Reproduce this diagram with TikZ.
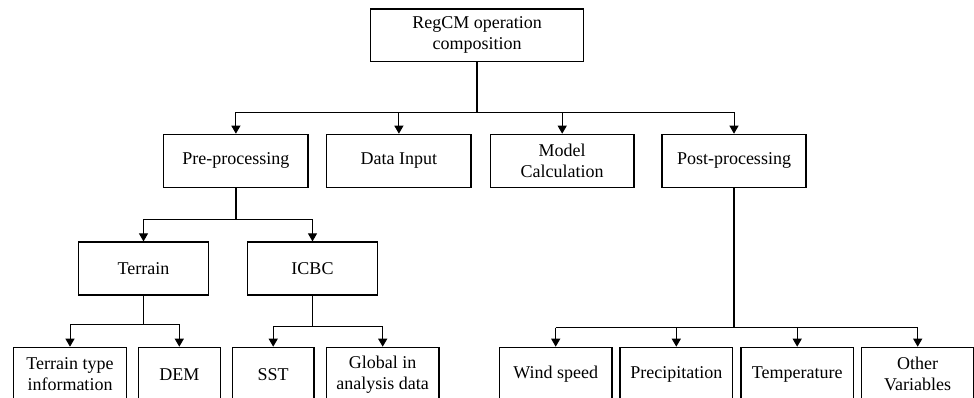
\documentclass[tikz,border=0pt]{standalone}
\usepackage{fontspec}
\setmainfont{Liberation Serif}
\usetikzlibrary{arrows.meta}
\begin{document}
\begin{tikzpicture}[x=1pt,y=-1pt,
  box/.style={draw=black,line width=1.2pt,inner sep=0pt,align=center,
    font=\fontsize{18}{21}\selectfont},
  trunk/.style={draw=black,line width=1.8pt},
  wire/.style={draw=black,line width=1pt},
  arr/.style={draw=black,line width=1pt,-{Triangle[width=9pt,length=8pt]}}]
\useasboundingbox (0,0) rectangle (974,398);
% root
\node[box,minimum width=213pt,minimum height=52.7pt] (root) at (477.2,35.3) {RegCM operation\\composition};
% row 2
\node[box,minimum width=144.3pt,minimum height=53pt] (pre) at (235.9,160.8) {Pre-processing};
\node[box,minimum width=144.3pt,minimum height=53pt] (din) at (398.9,160.8) {Data Input};
\node[box,minimum width=143.7pt,minimum height=53pt] (mod) at (562.2,160.8) {Model\\Calculation};
\node[box,minimum width=144pt,minimum height=53pt] (post) at (734,160.8) {Post-processing};
% row 3
\node[box,minimum width=130.4pt,minimum height=53pt] (ter) at (143.5,268.5) {Terrain};
\node[box,minimum width=130.4pt,minimum height=53pt] (icbc) at (312.5,268.5) {ICBC};
% row 4
\node[box,minimum width=112.6pt,minimum height=54pt] (tti) at (70,374.3) {Terrain type\\information};
\node[box,minimum width=82pt,minimum height=54pt] (dem) at (179.3,374.3) {DEM};
\node[box,minimum width=81.7pt,minimum height=54pt] (sst) at (273.2,374.3) {SST};
\node[box,minimum width=112.7pt,minimum height=54pt] (glob) at (382.7,374.3) {Global in\\analysis data};
\node[box,minimum width=112.7pt,minimum height=54pt] (wind) at (555.7,374.3) {Wind speed};
\node[box,minimum width=112.7pt,minimum height=54pt] (prec) at (676.3,374.3) {Precipitation};
\node[box,minimum width=112.3pt,minimum height=54pt] (temp) at (797.2,374.3) {Temperature};
\node[box,minimum width=112pt,minimum height=54pt] (oth) at (917.7,374.3) {Other\\Variables};
% bus levels
\coordinate (b1) at (0,112.3);
\coordinate (b2) at (0,219.3);
\coordinate (b3) at (0,324.3);
\coordinate (b4) at (0,326);
\coordinate (b5) at (0,327.7);
% root -> row 2
\draw[trunk] (root.south) -- (root.south |- b1);
\draw[wire] (pre.north |- b1) -- (post.north |- b1);
\foreach \n in {pre,din,mod,post} \draw[arr] (\n.north |- b1) -- (\n.north);
% pre -> row 3
\draw[trunk] (pre.south) -- (pre.south |- b2);
\draw[wire] (ter.north |- b2) -- (icbc.north |- b2);
\foreach \n in {ter,icbc} \draw[arr] (\n.north |- b2) -- (\n.north);
% terrain -> row 4
\draw[wire] (ter.south) -- (ter.south |- b3);
\draw[wire] (tti.north |- b3) -- (dem.north |- b3);
\foreach \n in {tti,dem} \draw[arr] (\n.north |- b3) -- (\n.north);
% icbc -> row 4
\draw[wire] (icbc.south) -- (icbc.south |- b4);
\draw[wire] (sst.north |- b4) -- (glob.north |- b4);
\foreach \n in {sst,glob} \draw[arr] (\n.north |- b4) -- (\n.north);
% post -> row 4
\draw[trunk] (post.south) -- (post.south |- b5);
\draw[wire] (wind.north |- b5) -- (oth.north |- b5);
\foreach \n in {wind,prec,temp,oth} \draw[arr] (\n.north |- b5) -- (\n.north);
\end{tikzpicture}
\end{document}
